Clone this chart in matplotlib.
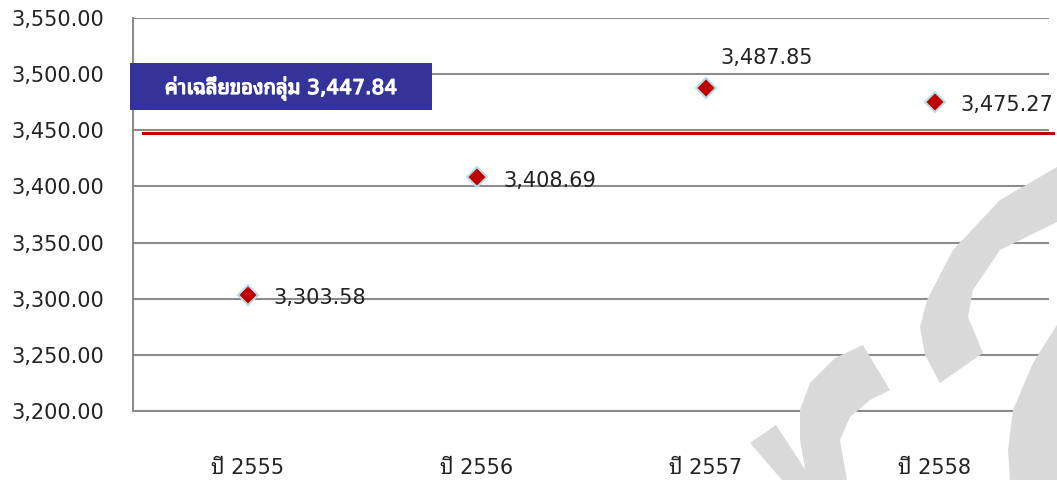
import matplotlib
matplotlib.use("Agg")
import matplotlib.pyplot as plt
import matplotlib.patheffects as pe
from matplotlib.patches import Polygon, Rectangle
from matplotlib.ticker import FuncFormatter

# digits from DejaVu Sans, Thai glyphs fall back to Noto Sans Thai Looped
plt.rcParams['font.family'] = ['DejaVu Sans', 'Noto Sans Thai Looped']

years = ['ปี 2555', 'ปี 2556', 'ปี 2557', 'ปี 2558']
values = [3303.58, 3408.69, 3487.85, 3475.27]
group_avg = 3447.84
avg_label = 'ค่าเฉลี่ยของกลุ่ม 3,447.84'
# label offsets in pixels (dx, dy) for each point
label_offsets = [(26, -3), (27, -4), (15, 30), (26, -3)]

W, H = 1057, 480
fig = plt.figure(figsize=(W / 100, H / 100), dpi=100)

def px(pts):
    # figure pixel coords (origin top-left) -> figure fraction
    return [(x / W, 1 - y / H) for x, y in pts]

# grey watermark shapes in the background
wm = '#d9d9d9'
shapes = [
    [(1057, 167), (1000, 200), (953, 250), (927, 300), (920, 327), (925, 355), (940, 383),
     (983, 353), (968, 317), (973, 290), (1000, 250), (1057, 222)],
    [(863, 345), (835, 358), (810, 383), (800, 410), (800, 440), (807, 480),
     (847, 480), (840, 440), (850, 417), (870, 400), (890, 390)],
    [(750, 443), (776, 425), (812, 480), (782, 480)],
    [(1057, 325), (1033, 363), (1013, 410), (1008, 450), (1010, 480), (1057, 480)],
]
for s in shapes:
    fig.patches.append(Polygon(px(s), closed=True, transform=fig.transFigure,
                               facecolor=wm, edgecolor='none', zorder=0))

ax = fig.add_axes([133 / W, 1 - 411 / H, 916 / W, 393 / H])
ax.patch.set_alpha(0)
ax.set_xlim(-0.5, 3.5)
ax.set_ylim(3200, 3550)
ax.set_yticks([3200 + 50 * i for i in range(8)])
ax.yaxis.set_major_formatter(FuncFormatter(lambda v, p: f'{v:,.2f}'))
ax.set_xticks(range(len(years)))
ax.set_xticklabels(years)
ax.grid(axis='y', color='#8c8c8c', linewidth=1.5)
ax.set_axisbelow(True)
for side in ['top', 'right']:
    ax.spines[side].set_visible(False)
for side in ['left', 'bottom']:
    ax.spines[side].set_color('#8c8c8c')
    ax.spines[side].set_linewidth(1.5)
ax.tick_params(axis='y', length=0, pad=21, labelsize=15, labelcolor='#222222')
ax.tick_params(axis='x', length=0, pad=34, labelsize=15, labelcolor='#222222')

ax.axhline(group_avg, xmin=0.011, xmax=1.004, color='#c00000', linewidth=2.2,
           clip_on=False, zorder=3)

ax.plot(range(len(values)), values, linestyle='none', marker='D', markersize=10.5,
        markerfacecolor='#c00000', markeredgecolor='#b7dee8', markeredgewidth=1.5, zorder=4)
for i, v in enumerate(values):
    dx, dy = label_offsets[i]
    ax.annotate(f'{v:,.2f}', (i, v), xytext=(dx, dy), textcoords='offset pixels',
                ha='left', va='center', fontsize=15, color='#222222')

# blue box with the group average
fig.patches.append(Rectangle((130 / W, 1 - 110 / H), 302 / W, 47 / H,
                             transform=fig.transFigure, facecolor='#333399',
                             edgecolor='none', zorder=5))
fig.text(281 / W, 1 - 88 / H, avg_label, ha='center', va='center', color='white',
         fontsize=14.6, zorder=6,
         path_effects=[pe.withStroke(linewidth=0.9, foreground='white')])

fig.savefig('out.png', dpi=100)
